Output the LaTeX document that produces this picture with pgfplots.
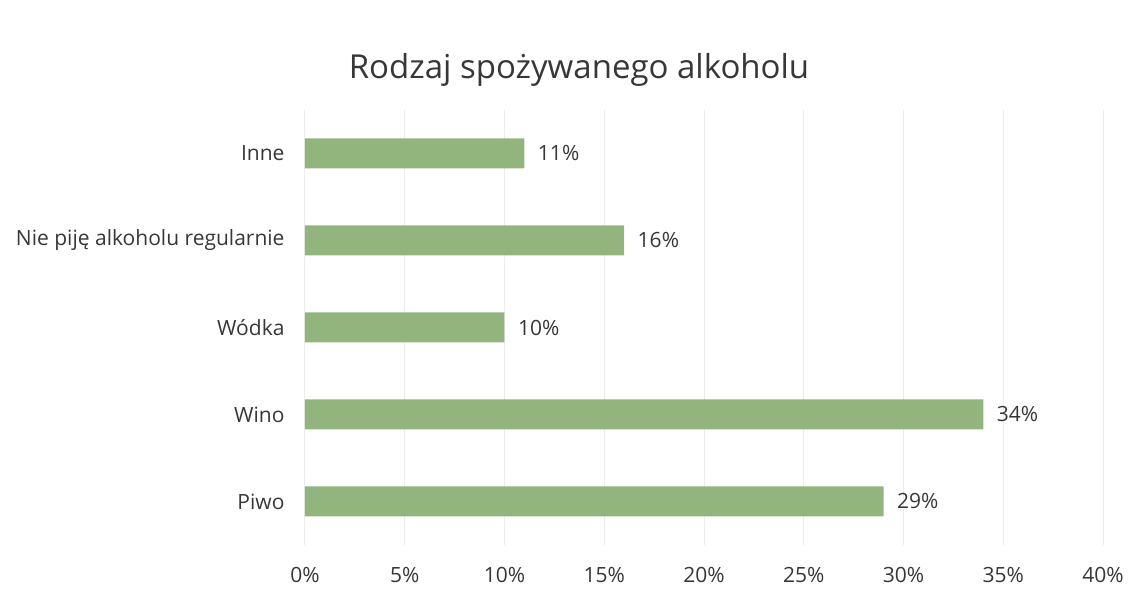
\documentclass[border=0pt]{standalone}
\usepackage{pgfplots}
\pgfplotsset{compat=1.18}
\usetikzlibrary{calc}
\usepackage{fontspec}
\setmainfont{Open Sans}
\definecolor{barg}{RGB}{146,181,126}
\definecolor{txt}{RGB}{55,55,55}
\definecolor{gridc}{RGB}{236,236,236}
\begin{document}
\begin{tikzpicture}
\begin{axis}[
  scale only axis,
  width=798pt, height=435pt,
  xbar, bar width=30pt,
  xmin=0, xmax=0.40,
  ymin=-0.5, ymax=4.5,
  xtick={0,0.05,0.10,0.15,0.20,0.25,0.30,0.35,0.40},
  xticklabels={0\%,5\%,10\%,15\%,20\%,25\%,30\%,35\%,40\%},
  ytick={0,1,2,3,4},
  yticklabels={Piwo,Wino,Wódka,Nie piję alkoholu regularnie,Inne},
  axis line style={draw=none},
  major tick length=0pt,
  xmajorgrids, grid style={gridc, line width=1pt},
  ticklabel style={font=\fontsize{21}{25}\selectfont, text=txt},
  xticklabel style={yshift=-19pt},
  yticklabel style={xshift=-17pt},
  /pgf/number format/assume math mode=true,
  point meta={x*100},
  nodes near coords={\pgfmathprintnumber[fixed,precision=0]{\pgfplotspointmeta}\%},
  nodes near coords style={font=\fontsize{21}{25}\selectfont, text=txt, anchor=west, xshift=10pt},
  clip=false,
]
\addplot[fill=barg, draw=none] coordinates {(0.29,0) (0.34,1) (0.10,2) (0.16,3) (0.11,4)};
\end{axis}
\path (current axis.south west) ++(-305pt,-51pt) coordinate (BL);
\useasboundingbox (BL) rectangle ++(1137pt,596pt);
\node[font=\fontsize{33}{40}\selectfont, text=txt] at ($(BL)+(579pt,526pt)$) {Rodzaj spożywanego alkoholu};
\end{tikzpicture}
\end{document}
